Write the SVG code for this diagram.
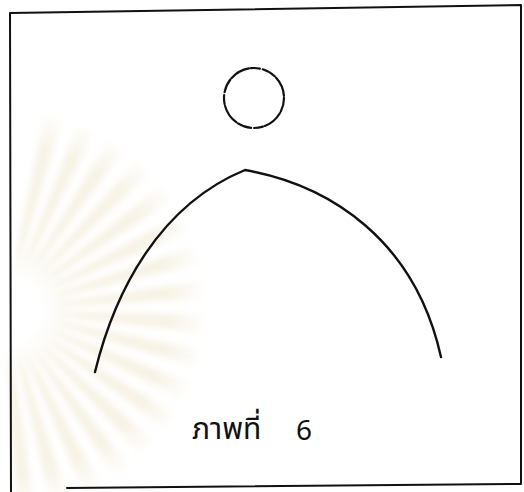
<svg xmlns="http://www.w3.org/2000/svg" width="524" height="492" viewBox="0 0 524 492">
<defs>
<style>
.ink{fill:none;stroke:#111;stroke-linecap:round;stroke-linejoin:round}
.ray{fill:#efe6cc}
.lbl{font-family:"Noto Sans Thai","Tlwg Typist","Garuda","Loma","DejaVu Sans","Noto Sans",sans-serif;fill:#111}
</style>
<filter id="soft" x="-20%" y="-20%" width="140%" height="140%">
<feGaussianBlur stdDeviation="3"/>
</filter>
<radialGradient id="fade" cx="5" cy="310" r="205" gradientUnits="userSpaceOnUse">
<stop offset="0.17" stop-color="#fff" stop-opacity="1"/>
<stop offset="0.3" stop-color="#fff" stop-opacity="0"/>
<stop offset="0.8" stop-color="#fff" stop-opacity="0"/>
<stop offset="1" stop-color="#fff" stop-opacity="1"/>
</radialGradient>
</defs>
<rect width="524" height="492" fill="#fff"/>
<g id="watermark" opacity="0.5">
<g transform="translate(5,310)" filter="url(#soft)">
<path class="ray" d="M0,0 L200,-9 L200,9 Z" transform="rotate(-76)"/>
<path class="ray" d="M0,0 L200,-9 L200,9 Z" transform="rotate(-66)"/>
<path class="ray" d="M0,0 L200,-9 L200,9 Z" transform="rotate(-56)"/>
<path class="ray" d="M0,0 L200,-9 L200,9 Z" transform="rotate(-46)"/>
<path class="ray" d="M0,0 L200,-9 L200,9 Z" transform="rotate(-36)"/>
<path class="ray" d="M0,0 L200,-9 L200,9 Z" transform="rotate(-26)"/>
<path class="ray" d="M0,0 L200,-9 L200,9 Z" transform="rotate(-16)"/>
<path class="ray" d="M0,0 L200,-9 L200,9 Z" transform="rotate(-6)"/>
<path class="ray" d="M0,0 L200,-9 L200,9 Z" transform="rotate(4)"/>
<path class="ray" d="M0,0 L200,-9 L200,9 Z" transform="rotate(14)"/>
<path class="ray" d="M0,0 L200,-9 L200,9 Z" transform="rotate(24)"/>
<path class="ray" d="M0,0 L200,-9 L200,9 Z" transform="rotate(34)"/>
<path class="ray" d="M0,0 L200,-9 L200,9 Z" transform="rotate(44)"/>
<path class="ray" d="M0,0 L200,-9 L200,9 Z" transform="rotate(54)"/>
<path class="ray" d="M0,0 L200,-9 L200,9 Z" transform="rotate(64)"/>
<path class="ray" d="M0,0 L200,-9 L200,9 Z" transform="rotate(74)"/>
<path class="ray" d="M0,0 L200,-9 L200,9 Z" transform="rotate(84)"/>
</g>
<circle cx="5" cy="310" r="205" fill="url(#fade)"/>
</g>
<g id="frame">
<path class="ink" stroke-width="2" d="M10,13 L521,5 M10,13 L11,492 M521,5 L521,484 M67,488 L521,484"/>
</g>
<g id="circle">
<circle class="ink" stroke-width="2.2" cx="254" cy="98" r="30" stroke-dasharray="14 2 20 2 9 3"/>
</g>
<g id="arch">
<path class="ink" stroke-width="2.4" d="M95,372 C115,290 160,205 245,170 C330,185 415,240 441,357"/>
</g>
<g id="caption">
<text class="lbl" x="192" y="439" font-size="30">ภาพที่</text>
<text class="lbl" x="296" y="440" font-size="28">6</text>
</g>
</svg>
